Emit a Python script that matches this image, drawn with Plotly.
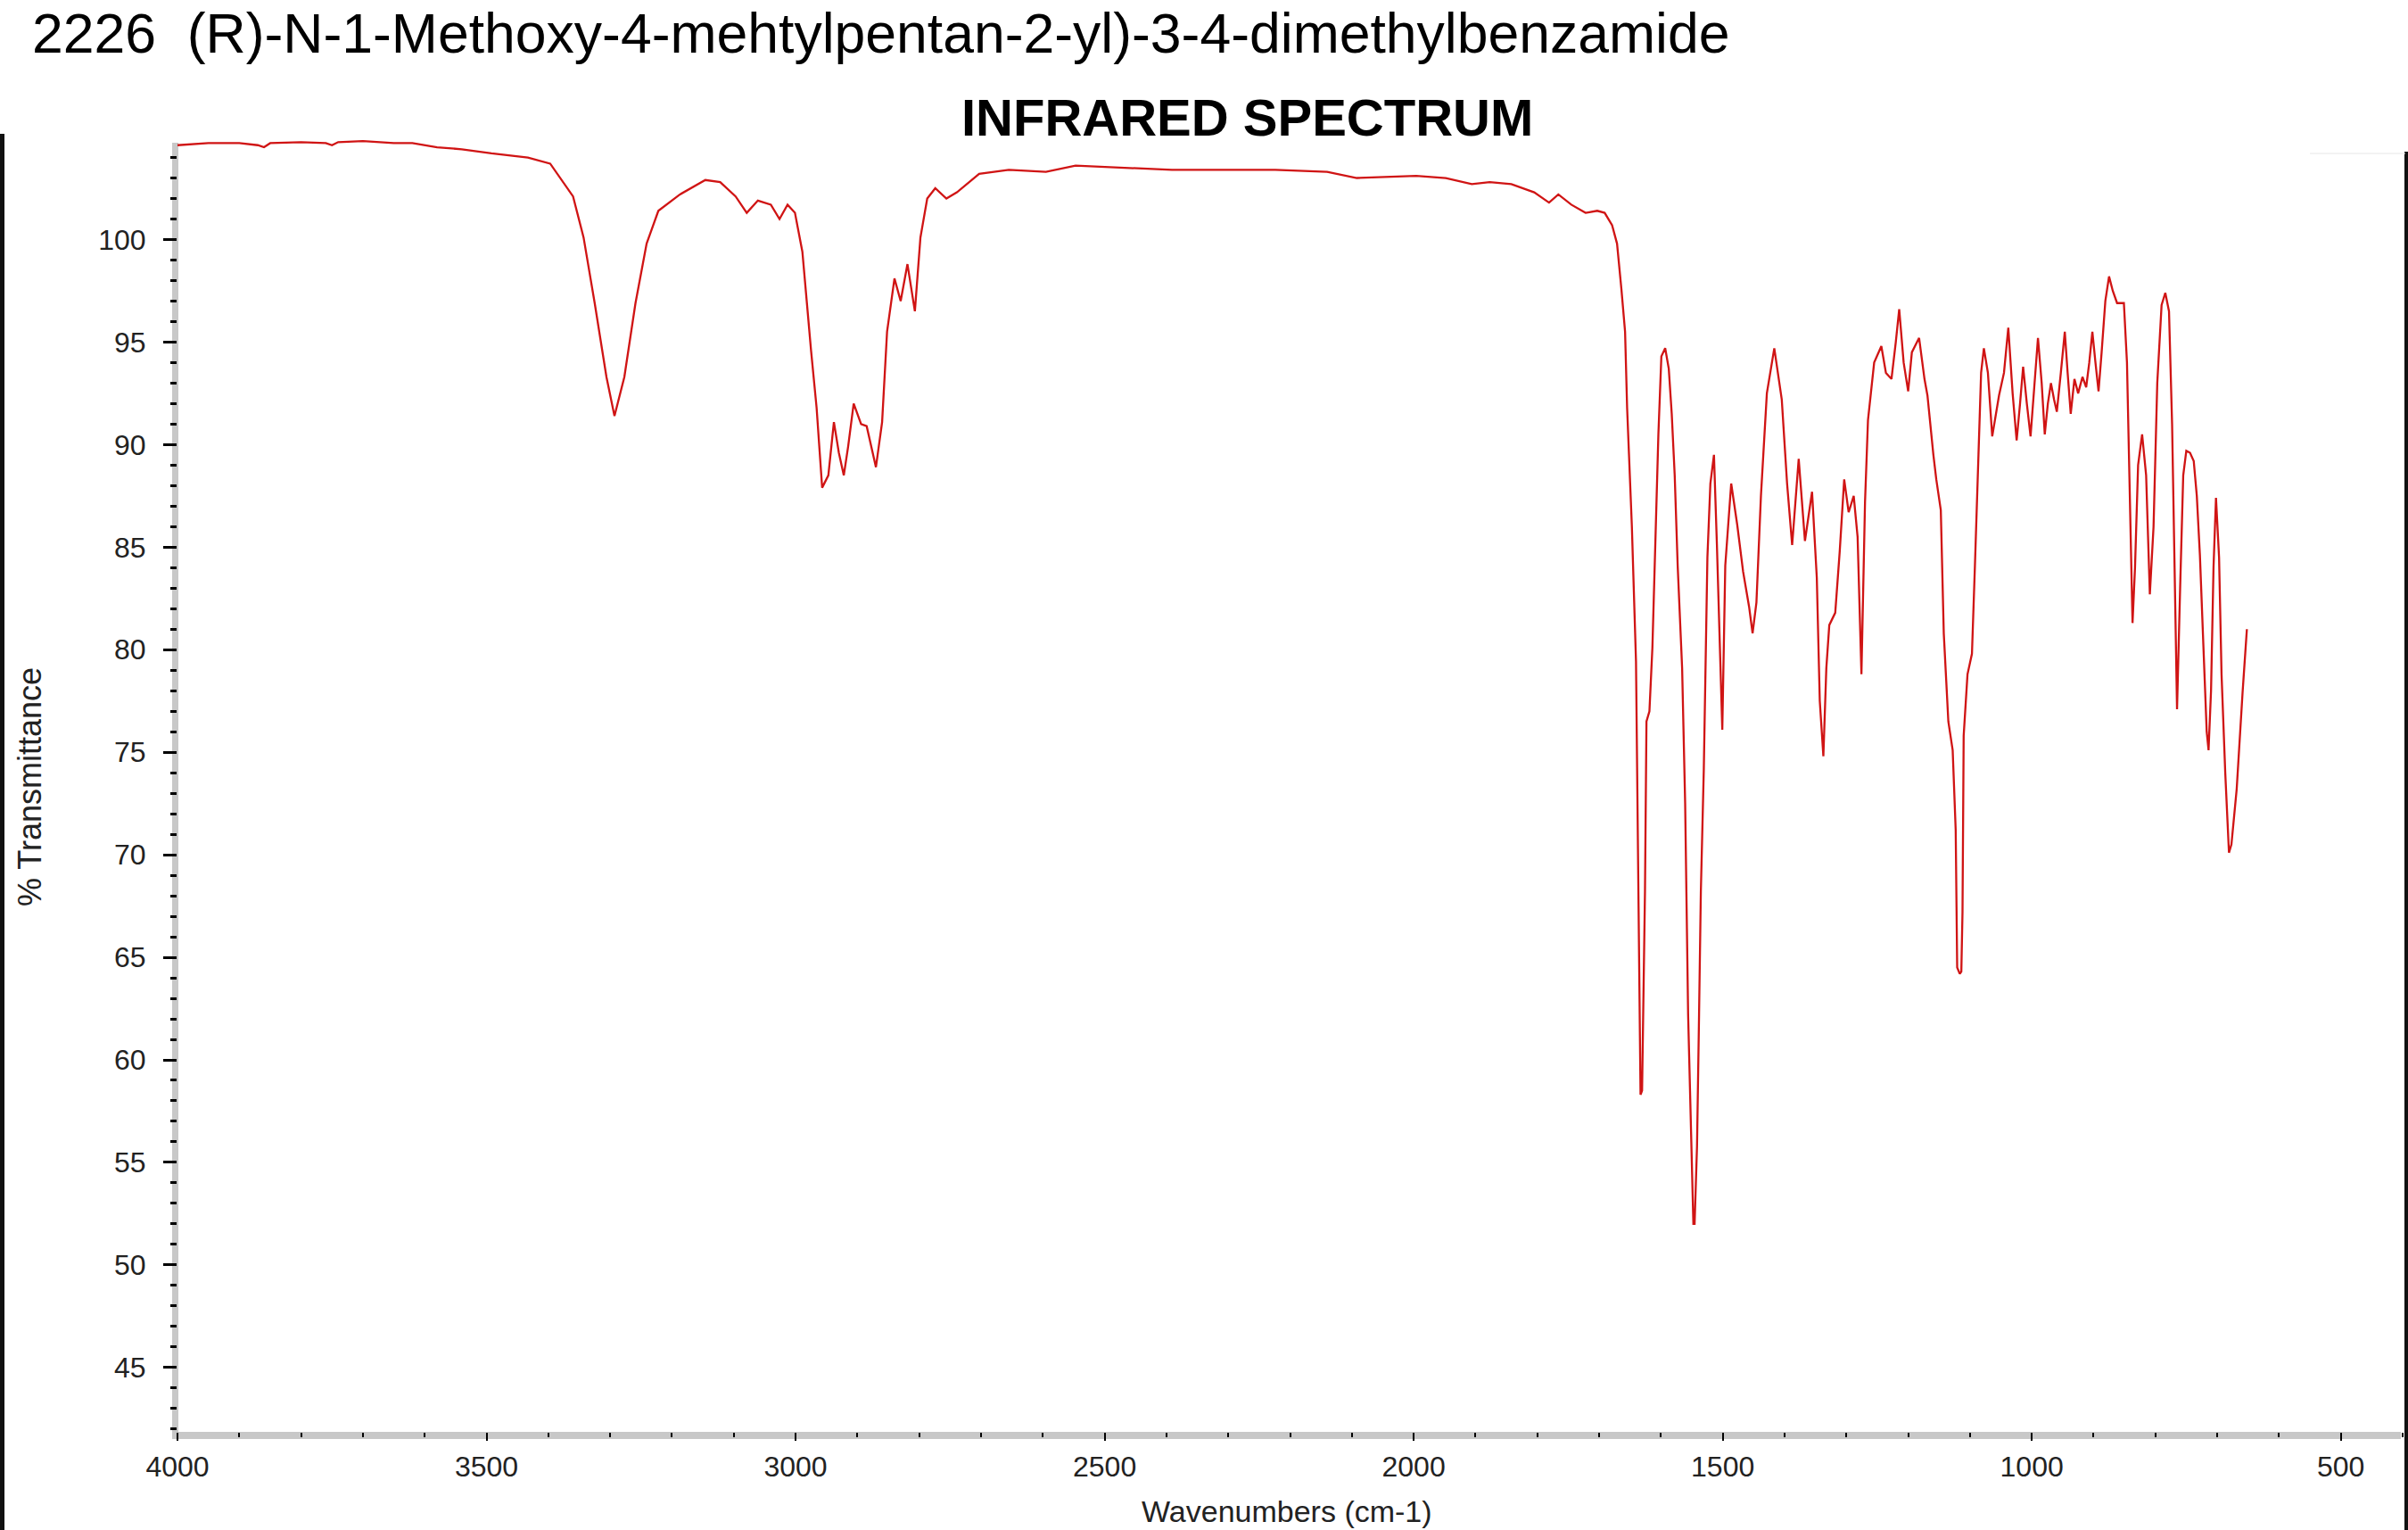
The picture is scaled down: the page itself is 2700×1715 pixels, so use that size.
import plotly.graph_objects as go

# ---- data ----
wavenumber = [
    4000, 3950, 3900, 3870, 3860, 3850, 3800, 3760, 3750, 3740, 3700, 3650, 3620, 3580, 3540,
    3492, 3433, 3397, 3360, 3343, 3325, 3306, 3293, 3277, 3259, 3241, 3222, 3187, 3146, 3122,
    3097, 3079, 3061, 3040, 3026, 3013, 3001, 2989, 2975, 2966, 2957, 2947, 2938, 2930, 2922,
    2915, 2906, 2894, 2885, 2870, 2860, 2852, 2840, 2830, 2819, 2807, 2798, 2787, 2774, 2756,
    2739, 2703, 2655, 2595, 2547, 2475, 2391, 2296, 2224, 2140, 2092, 1996, 1948, 1906, 1877,
    1842, 1805, 1781, 1766, 1745, 1722, 1703, 1691, 1679, 1671, 1664, 1658, 1654.7, 1647,
    1640.3, 1636, 1633, 1630.5, 1625.8, 1623.4, 1618.6, 1613.8, 1608.9, 1604.1, 1599.3,
    1593.1, 1587.3, 1582.5, 1577.7, 1572.9, 1565.7, 1560.8, 1556, 1551.2, 1547.5, 1545.5,
    1541.6, 1538.3, 1535.4, 1530.6, 1524.8, 1520, 1514.2, 1509.4, 1503.2, 1500.7, 1495.9,
    1486.3, 1476.6, 1467, 1457.4, 1451.7, 1445.5, 1438.2, 1428.6, 1416.6, 1404.5, 1395.9,
    1387.7, 1377.1, 1367, 1355.5, 1347.8, 1343, 1337.2, 1332.4, 1327.6, 1318, 1310.7, 1303.5,
    1296.3, 1288.1, 1281.8, 1275.6, 1269.8, 1265, 1255, 1243.4, 1236, 1227, 1220, 1214.5,
    1207.3, 1200, 1194, 1182.3, 1173.6, 1168.8, 1159.2, 1154.5, 1147.2, 1142.4, 1135, 1128,
    1123.1, 1120.7, 1116.5, 1114, 1112.1, 1110.2, 1104, 1096.8, 1092, 1087.1, 1082, 1077.5,
    1071, 1064, 1058, 1053, 1045, 1038, 1031, 1024.5, 1019, 1014, 1008, 1002, 996, 990, 984,
    979, 974, 969, 964, 959.5, 953, 946.6, 942, 937, 931, 925, 918, 912, 907, 902, 897, 892,
    887, 881, 875, 869, 862, 851, 846, 842, 837, 833, 828, 821.5, 815, 809, 803, 797, 790,
    784, 778, 773, 769, 765, 760, 755, 750, 744, 738, 733, 728, 722, 717, 714, 710, 706, 702,
    697, 693, 687, 681, 677, 668.5, 659, 652,
]
transmittance = [
    104.6, 104.7, 104.7, 104.6, 104.5, 104.7, 104.75, 104.7, 104.6, 104.75, 104.8, 104.7, 104.7, 104.5, 104.4,
    104.2, 104.0, 103.7, 102.1, 100.1, 96.9, 93.3, 91.4, 93.3, 96.9, 99.8, 101.4, 102.2, 102.9, 102.8,
    102.1, 101.3, 101.9, 101.7, 101.0, 101.7, 101.3, 99.4, 94.6, 91.8, 87.9, 88.5, 91.1, 89.6, 88.5,
    89.9, 92.0, 91.0, 90.9, 88.9, 91.1, 95.5, 98.1, 97.0, 98.8, 96.5, 100.1, 102.0, 102.5, 102.0,
    102.3, 103.2, 103.4, 103.3, 103.6, 103.5, 103.4, 103.4, 103.4, 103.3, 103.0, 103.1, 103.0, 102.7, 102.8,
    102.7, 102.3, 101.8, 102.2, 101.7, 101.3, 101.4, 101.3, 100.7, 99.8, 97.6, 95.5, 91.8, 86.0,
    79.4, 68.0, 58.3, 58.5, 68.2, 76.5, 77.0, 80.1, 85.8, 90.5, 94.3,
    94.7, 93.7, 91.5, 88.5, 84.1, 79.1, 72.5, 62.2, 55.8, 52.0, 52.0,
    55.8, 62.2, 68.2, 74.2, 84.5, 88.1, 89.5, 85.1, 79.1, 76.1, 84.1,
    88.1, 86.1, 83.8, 82.1, 80.8, 82.3, 87.5, 92.5, 94.7, 92.2, 88.1,
    85.1, 89.3, 85.3, 87.7, 83.5, 77.5, 74.8, 79.1, 81.2, 81.8, 84.8, 88.3,
    86.7, 87.5, 85.5, 78.8, 87.2, 91.2, 94.0, 94.8, 93.5, 93.2, 95.0, 96.6,
    94.0, 92.6, 94.5, 95.2, 93.2, 92.4, 89.5, 88.3, 86.8, 80.8, 76.5, 75.1,
    71.2, 64.5, 64.2, 64.3, 67.2, 75.8, 78.8, 79.8, 84.1, 89.1, 93.5, 94.7,
    93.5, 90.4, 91.5, 92.4, 93.5, 95.7, 92.5, 90.2, 92.0, 93.8, 92.0, 90.4, 92.8, 95.2, 93.0,
    90.5, 92.0, 93.0, 92.2, 91.6, 93.5, 95.5, 93.5, 91.5, 93.2, 92.5, 93.3, 92.8, 94.0, 95.5, 94.0, 92.6,
    94.5, 97.0, 98.2, 97.5, 96.9, 96.9, 94.0, 88.5, 81.3, 84.0, 89.0, 90.5, 88.5, 82.7, 86.0, 93.0, 96.8,
    97.4, 96.5, 91.0, 84.6, 77.1, 83.0, 88.5, 89.7, 89.6, 89.2, 87.5, 84.6, 80.0, 76.0, 75.1, 78.0, 84.0, 87.4,
    84.5, 78.8, 74.0, 70.1, 70.5, 73.2, 77.9, 81.0,
]
y_ticks = [45, 50, 55, 60, 65, 70, 75, 80, 85, 90, 95, 100]
x_ticks = [4000, 3500, 3000, 2500, 2000, 1500, 1000, 500]

title_main = "2226  (R)-N-1-Methoxy-4-mehtylpentan-2-yl)-3-4-dimethylbenzamide"
title_sub = "INFRARED SPECTRUM"
x_title = "Wavenumbers (cm-1)"
y_title = "% Transmittance"

# ---- layout geometry ----
W, H = 2700, 1715
ML, MR, MT, MB = 199, 6, 154, 110
PW, PH = W - ML - MR, H - MT - MB


def px(x):
    return (x - ML) / PW


def py(y):
    return 1 - (y - MT) / PH


regular = "Liberation Sans, Arial, sans-serif"

fig = go.Figure()
fig.add_trace(go.Scatter(
    x=wavenumber, y=transmittance, mode="lines",
    line=dict(color="#d01414", width=2.3), hoverinfo="skip", showlegend=False,
))

tickfont = dict(family=regular, size=32, color="#222222")

fig.update_layout(
    width=W, height=H,
    margin=dict(l=ML, r=MR, t=MT, b=MB, pad=0),
    paper_bgcolor="white", plot_bgcolor="white",
    showlegend=False,
    xaxis=dict(
        range=[4000, 400], tickmode="array", tickvals=x_ticks,
        ticktext=[str(v) for v in x_ticks],
        ticks="outside", ticklen=9, tickwidth=2, tickcolor="black",
        minor=dict(dtick=100, tick0=0, ticks="outside", ticklen=5, tickwidth=2, tickcolor="black"),
        showgrid=False, zeroline=False, showline=False,
        tickfont=tickfont, ticklabelstandoff=2,
    ),
    yaxis=dict(
        range=[41.86, 104.98], tickmode="array", tickvals=y_ticks,
        ticktext=[str(v) for v in y_ticks],
        ticks="outside", ticklen=15, tickwidth=2.5, tickcolor="black",
        minor=dict(dtick=1, tick0=0, ticks="outside", ticklen=7, tickwidth=2.5, tickcolor="black"),
        showgrid=False, zeroline=False, showline=False,
        tickfont=tickfont, ticklabelstandoff=13,
    ),
)

shapes = [
    # grey axis bands
    dict(type="rect", xref="paper", yref="paper", x0=px(193), x1=px(200), y0=py(1613), y1=py(160),
         fillcolor="#c8c8c8", line=dict(width=0), layer="below"),
    dict(type="rect", xref="paper", yref="paper", x0=px(193), x1=px(2692), y0=py(1613), y1=py(1605),
         fillcolor="#c8c8c8", line=dict(width=0), layer="below"),
    # window frame edges
    dict(type="rect", xref="paper", yref="paper", x0=px(0), x1=px(5), y0=py(1715), y1=py(150),
         fillcolor="#111111", line=dict(width=0), layer="below"),
    dict(type="rect", xref="paper", yref="paper", x0=px(2696), x1=px(2700), y0=py(1715), y1=py(170),
         fillcolor="#111111", line=dict(width=0), layer="below"),
    dict(type="line", xref="paper", yref="paper", x0=px(2590), x1=px(2697), y0=py(172), y1=py(172),
         line=dict(color="#e6e6e6", width=1), layer="below"),
]
fig.update_layout(shapes=shapes)

annotations = [
    dict(text=title_main, x=px(34), y=py(0), xanchor="left", yanchor="top",
         font=dict(family=regular, size=62.5, color="black")),
    dict(text="<b>" + title_sub + "</b>", x=px(1398), y=py(131), xanchor="center", yanchor="middle",
         font=dict(family=regular, size=58, color="black")),
    dict(text=y_title, x=px(33), y=py(882), xanchor="center", yanchor="middle", textangle=-90,
         font=dict(family=regular, size=36, color="#222222")),
    dict(text=x_title, x=px(1443), y=py(1715), xanchor="center", yanchor="bottom",
         font=dict(family=regular, size=34, color="#222222")),
]
for a in annotations:
    a.update(xref="paper", yref="paper", showarrow=False)
fig.update_layout(annotations=annotations)

fig.write_html(
    "out.html",
    config={"displayModeBar": False},
    post_script="document.body.style.margin='0px';document.body.style.overflow='hidden';",
)
